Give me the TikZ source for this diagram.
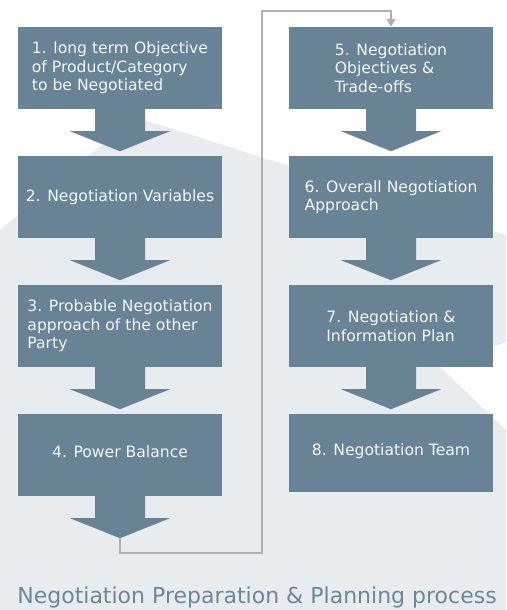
\documentclass[tikz,border=0pt]{standalone}
\usepackage{fontspec}
\setmainfont{DejaVu Sans}
\usetikzlibrary{calc,arrows.meta}
\definecolor{boxblue}{HTML}{688395}
\definecolor{pale}{HTML}{E9ECEF}
\definecolor{linkgray}{HTML}{B0B0B0}
\definecolor{titleblue}{HTML}{6B8799}
\definecolor{boxtext}{HTML}{F4F6F8}

\begin{document}
\begin{tikzpicture}[x=1pt,y=-1pt,
  stepbox/.style={fill=boxblue, draw=none, minimum width=203.4pt, minimum height=82pt,
    inner sep=0pt, text=boxtext, align=left, font=\fontsize{15.6}{18.5}\selectfont},
  raised/.style={text depth=7.5pt},
  flowarrow/.style={fill=boxblue, draw=none},
  link/.style={draw=linkgray, line width=2.2pt},
  titletext/.style={font=\fontsize{22}{26}\selectfont, text=titleblue, anchor=base},
]
% canvas and pale backdrop shape
\fill[white] (0,0) rectangle (506,610);
\useasboundingbox (0,0) rectangle (506,610);
\fill[pale] (0,230) -- (135,117) -- (506,235) -- (506,342) -- (439,366)
  -- (506,430) -- (506,610) -- (0,610) -- cycle;

% process steps
\node[stepbox] (b1) at (120,68) {1. long term Objective\\of Product/Category\\to be Negotiated};
\node[stepbox] (b2) at (120,197) {2. Negotiation Variables};
\node[stepbox] (b3) at (120,326) {3. Probable Negotiation\\approach of the other\\Party};
\node[stepbox, raised] (b4) at (120,455) {4. Power Balance};
\node[stepbox] (b5) at (391,68) {5. Negotiation\\Objectives \&\\Trade-offs};
\node[stepbox] (b6) at (391,197) {6. Overall Negotiation\\Approach};
\node[stepbox] (b7) at (391,326) {7. Negotiation \&\\Information Plan};
\node[stepbox, raised, minimum height=78pt] (b8) at (391,453) {8. Negotiation Team};

% block arrows below the steps
\foreach \b in {b1,b2,b3,b4,b5,b6,b7} {
  \fill[flowarrow] ($(\b.south)+(-25,-0.5)$) -- ($(\b.south)+(-25,22)$)
    -- ($(\b.south)+(-50,22)$) -- ($(\b.south)+(0,42)$) -- ($(\b.south)+(50,22)$)
    -- ($(\b.south)+(25,22)$) -- ($(\b.south)+(25,-0.5)$) -- cycle;
}

% link from the first column to the second
\coordinate (t4) at ($(b4.south)+(0,42)$);
\coordinate (r1) at (262,553);
\coordinate (r2) at (262,11);
\draw[link, -{Triangle[length=8pt,width=9pt]}] (t4) |- (r1) -- (r2) -| (b5.north);

% caption
\node[titletext] (title) at (257,603) {Negotiation Preparation \& Planning process};
\end{tikzpicture}
\end{document}
